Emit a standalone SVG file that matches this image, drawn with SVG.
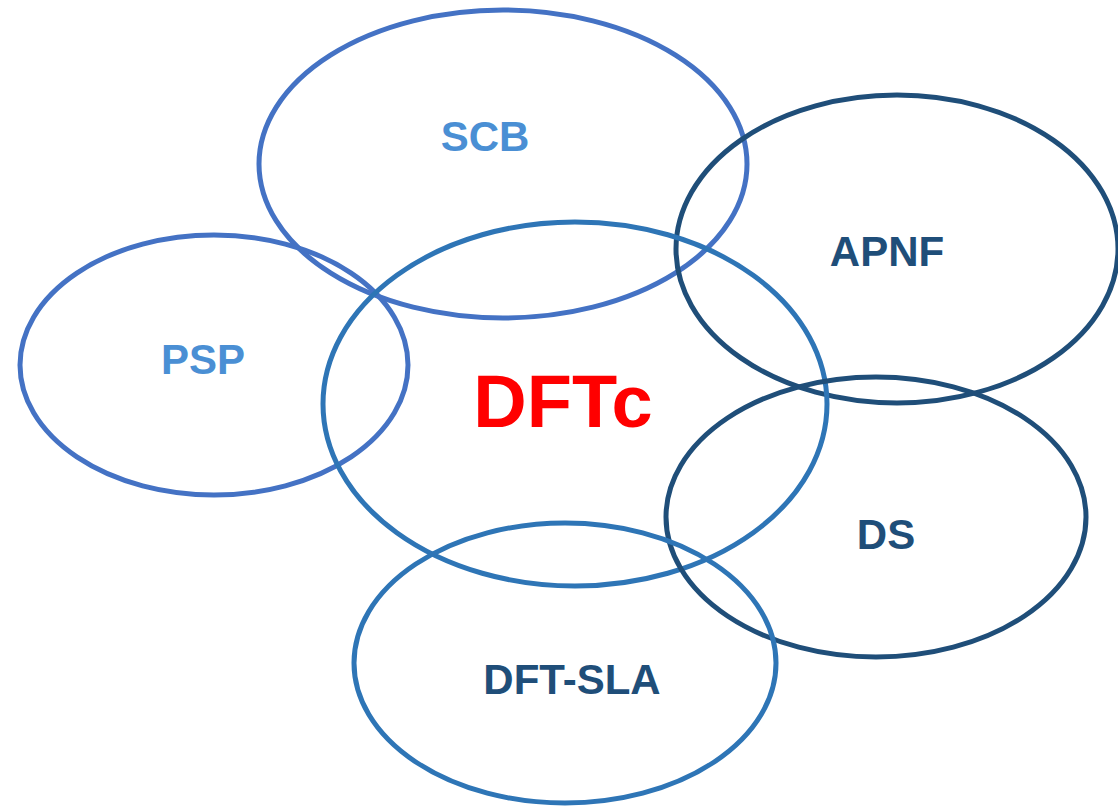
<svg xmlns="http://www.w3.org/2000/svg" width="1118" height="806" viewBox="0 0 1118 806">
<style>
.e{fill:none;stroke-width:5}
.a{stroke:#4472C4}
.b{stroke:#2E75B6}
.c{stroke:#1F4E79}
text{font-family:"Liberation Sans",Arial,sans-serif;font-weight:bold;text-anchor:middle}
.l{fill:#4A8FD4;font-size:42px}
.d{fill:#1F4E79;font-size:42px}
.r{fill:#FF0000;font-size:74px}
</style>
<rect width="1118" height="806" fill="#FFFFFF"/>
<g id="SCB"><ellipse class="e a" cx="503" cy="164" rx="244" ry="154"/><text class="l" x="485" y="151">SCB</text></g>
<g id="APNF"><ellipse class="e c" cx="897" cy="249" rx="221" ry="154"/><text class="d" x="887" y="266">APNF</text></g>
<g id="PSP"><ellipse class="e a" cx="214" cy="365" rx="194" ry="130"/><text class="l" x="203" y="374">PSP</text></g>
<g id="DFTc"><ellipse class="e b" cx="575" cy="404" rx="252" ry="182"/><text class="r" x="563" y="427">DFTc</text></g>
<g id="DS"><ellipse class="e c" cx="876" cy="517" rx="210" ry="140"/><text class="d" x="886" y="549">DS</text></g>
<g id="DFT-SLA"><ellipse class="e b" cx="565" cy="663" rx="211" ry="140"/><text class="d" x="572" y="694">DFT-SLA</text></g>
<g id="connectors"></g>
</svg>
